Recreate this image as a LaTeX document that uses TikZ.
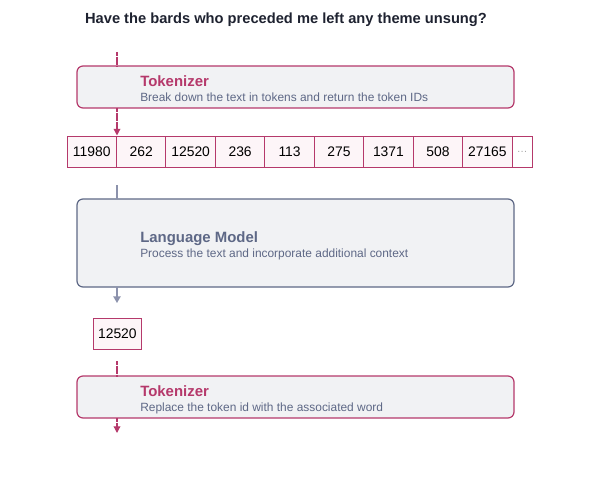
\documentclass[tikz,border=0pt]{standalone}
\usepackage{fontspec}
\setmainfont{Liberation Sans}
\usetikzlibrary{arrows.meta}
\definecolor{pinkc}{HTML}{B5396B}
\definecolor{slatec}{HTML}{5E6886}
\definecolor{greyarr}{HTML}{8C92AC}
\definecolor{boxfill}{HTML}{F1F2F4}
\definecolor{cellfill}{HTML}{FDF5F8}
\definecolor{titlec}{HTML}{1E2230}
\tikzset{
  px/.style={x=0.75pt,y=-0.75pt},
  stage/.style={draw, line width=0.9pt, rounded corners=4.5pt, fill=boxfill},
  pinkstage/.style={stage, draw=pinkc},
  slatestage/.style={stage, draw=slatec},
  cell/.style={draw=pinkc, line width=0.8pt, fill=cellfill, minimum height=23.6pt, inner sep=0pt, font=\fontsize{10.4pt}{12pt}\selectfont, text=black, anchor=north west},
  pinkline/.style={draw=pinkc, line width=0.9pt, dash pattern=on 0.6pt off 0.25pt},
  pinkarrow/.style={pinkline, -{Triangle[width=5pt,length=5pt]}},
  greyline/.style={draw=greyarr, line width=1pt},
  greyarrow/.style={greyline, -{Triangle[width=5.5pt,length=5pt]}},
  heading/.style={anchor=base west, font=\bfseries\fontsize{11.2pt}{13pt}\selectfont, inner sep=0pt},
  sub/.style={anchor=base west, font=\fontsize{8.95pt}{10.5pt}\selectfont, text=slatec, inner sep=0pt},
}
\begin{document}
\begin{tikzpicture}[px]
\useasboundingbox (0,0) rectangle (600,478);
% title
\node[font=\bfseries\fontsize{11pt}{13pt}\selectfont, text=titlec, anchor=base, inner sep=0pt] (title) at (286,24) {Have the bards who preceded me left any theme unsung?};

% tokenizer 1
\path[pinkstage] (77,66) rectangle (514,108);
\coordinate (tok1top) at (117,66);
\coordinate (tok1bot) at (117,108);
\node[heading, text=pinkc] (tok1h) at (140,87) {Tokenizer};
\node[sub] (tok1s) at (140,102) {Break down the text in tokens and return the token IDs};
\coordinate (in1) at (117,52);
\draw[pinkline] (in1) -- (tok1top);

% token cells
\foreach \v [count=\i] in {11980,262,12520,236,113,275,1371,508,27165}{
  \node[cell, minimum width=37.09pt] (c\i) at ({66.5+(\i-1)*49.45},135.5) {\v};
}
\node[cell, minimum width=15.1pt, fill=white, text=gray!70, font=\fontsize{8pt}{9pt}\selectfont] (c10) at (511.55,135.5) {\dots};
\coordinate (c2top) at (117,135.5);
\draw[pinkarrow] (tok1bot) -- (c2top);

% language model
\path[slatestage] (77,199) rectangle (514,287);
\coordinate (lmtop) at (117,199);
\coordinate (lmbot) at (117,287);
\node[heading, text=slatec] (lmh) at (140,242) {Language Model};
\node[sub] (lms) at (140,257) {Process the text and incorporate additional context};
\coordinate (lmin) at (117,185);
\draw[greyline] (lmin) -- (lmtop);
\coordinate (lmout) at (117,303);
\draw[greyarrow] (lmbot) -- (lmout);

% output token
\node[cell, minimum width=36.5pt, minimum height=23.5pt] (outtok) at (92.5,317.5) {12520};

% tokenizer 2
\path[pinkstage] (77,376) rectangle (514,418);
\coordinate (tok2top) at (117,376);
\coordinate (tok2bot) at (117,418);
\node[heading, text=pinkc] (tok2h) at (140,396) {Tokenizer};
\node[sub] (tok2s) at (140,411) {Replace the token id with the associated word};
\coordinate (tok2in) at (117,361);
\draw[pinkline] (tok2in) -- (tok2top);
\coordinate (tok2out) at (117,433);
\draw[pinkarrow] (tok2bot) -- (tok2out);
\end{tikzpicture}
\end{document}
